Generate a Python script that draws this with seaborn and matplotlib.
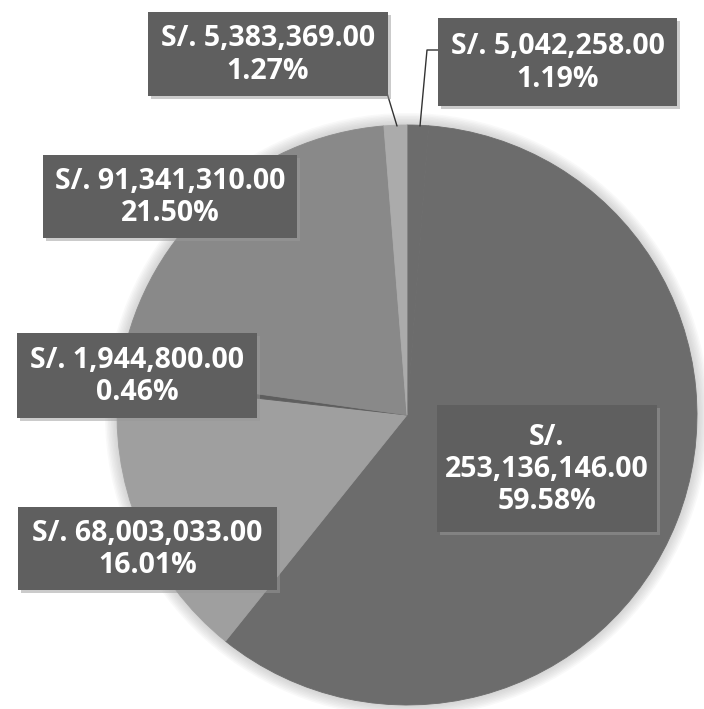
import matplotlib.pyplot as plt
import seaborn as sns
from matplotlib.patches import Rectangle, Circle

# data (clockwise from 12 o'clock)
amounts = [5042258.00, 253136146.00, 68003033.00, 1944800.00, 91341310.00, 5383369.00]
shares = [1.19, 59.58, 16.01, 0.46, 21.50, 1.27]
split_prefix = [False, True, False, False, False, False]

# styles / layout
slice_colors = ["#6c6c6c", "#6c6c6c", "#9f9f9f", "#5e5e5e", "#898989", "#ababab"]
box_color = "#5f5f5f"
# label boxes in pixel coords: left, top, width, height
boxes = [
    (438, 18, 239, 88),
    (437, 405, 220, 127),
    (18, 507, 259, 83),
    (17, 333, 240, 85),
    (43, 155, 254, 83),
    (148, 12, 240, 84),
]
center = (407, 415)
radius = 290

sns.set_style("white")
plt.rcParams["font.family"] = ["Open Sans", "DejaVu Sans"]

fig = plt.figure(figsize=(7.04, 7.09), dpi=100)
ax = fig.add_axes([0, 0, 1, 1])

# soft shadow around the pie
for i in range(1, 9):
    ax.add_patch(Circle(center, radius + i * 1.5, color="#9a9a9a", alpha=0.06, zorder=0, lw=0))

# y axis is inverted (pixel coords), so counterclock=True reads clockwise on screen
wedges, _ = ax.pie(shares, colors=slice_colors, startangle=-90, counterclock=True,
                   center=center, radius=radius)
# hide antialiasing seams between wedges
for wd in wedges:
    wd.set_edgecolor(wd.get_facecolor())
    wd.set_linewidth(0.6)
ax.set_xlim(0, 704)
ax.set_ylim(709, 0)
ax.set_axis_off()

# leader lines for the two small slices at the top
ax.plot([387, 397], [93, 126], color="#333333", lw=1, zorder=3)
ax.plot([438, 427, 420], [50, 50, 126], color="#333333", lw=1, zorder=3)

for amt, pct, split, (x, y, w, h) in zip(amounts, shares, split_prefix, boxes):
    sep = "\n" if split else " "
    label = f"S/.{sep}{amt:,.2f}\n{pct:.2f}%"
    ax.add_patch(Rectangle((x + 3, y + 3), w, h, color="#999999", alpha=0.5, zorder=4, lw=0))
    ax.add_patch(Rectangle((x, y), w, h, color=box_color, zorder=5, lw=0))
    ax.text(x + w / 2, y + h / 2 + 1, label, ha="center", va="center", color="white",
            fontsize=20.5, fontweight="bold", linespacing=1.15, zorder=6)

fig.savefig("out.png", dpi=100, facecolor="white")
